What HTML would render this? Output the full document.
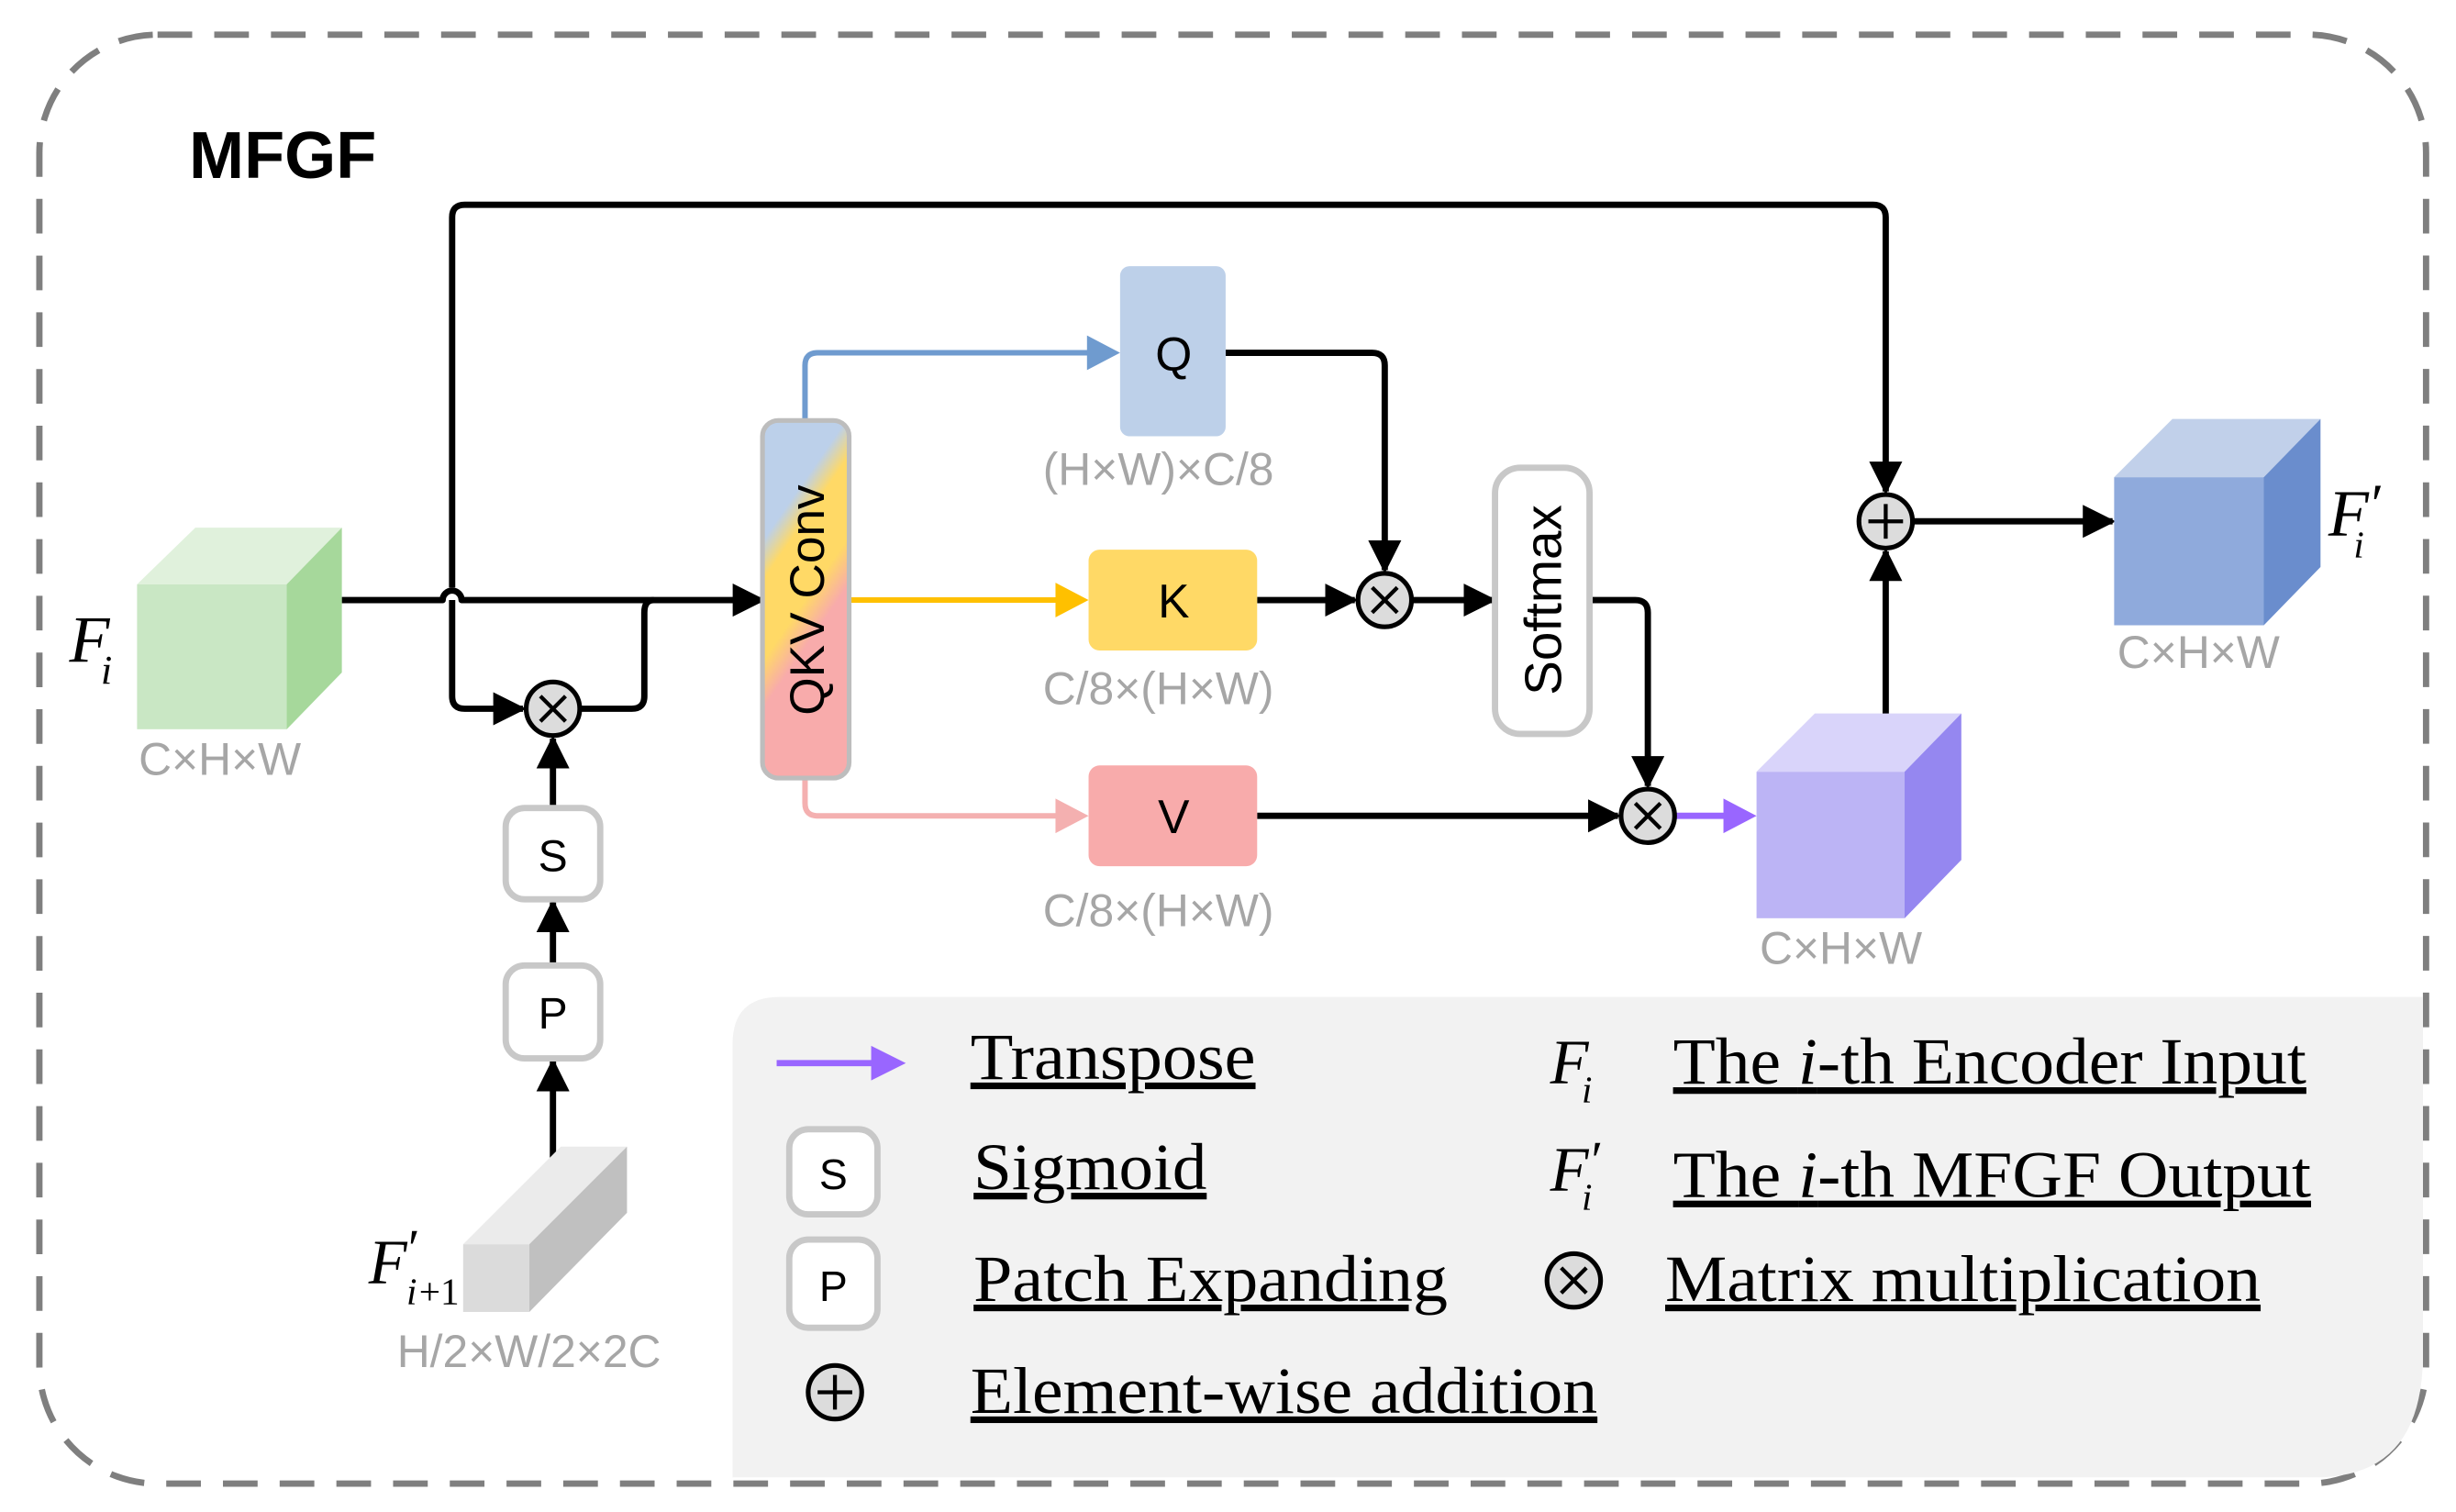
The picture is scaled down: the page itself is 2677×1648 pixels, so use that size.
<!DOCTYPE html>
<html><head><meta charset="utf-8"><style>
html,body{margin:0;padding:0;background:#fff;}
svg{display:block;}
.s{font-family:"Liberation Sans",sans-serif;}
.g{font-family:"Liberation Sans",sans-serif;fill:#a6a6a6;font-size:29px;}
.r{font-family:"Liberation Serif",serif;font-size:42px;fill:#000;text-decoration:underline;}
.m{font-family:"Liberation Serif",serif;font-style:italic;fill:#000;}
</style></head><body>
<svg width="2677" height="1648" viewBox="0 0 1559 960" preserveAspectRatio="none" xmlns="http://www.w3.org/2000/svg">
<defs>
<marker id="a" viewBox="0 0 10 10" refX="9" refY="5" markerWidth="21" markerHeight="21" orient="auto" markerUnits="userSpaceOnUse"><path d="M0,0 L10,5 L0,10z" fill="#000"/></marker>
<linearGradient id="qkv" x1="0" y1="0" x2="0.35" y2="1">
<stop offset="0" stop-color="#bcd0ea"/><stop offset="0.3" stop-color="#bcd0ea"/>
<stop offset="0.4" stop-color="#ffd966"/><stop offset="0.6" stop-color="#ffd966"/>
<stop offset="0.72" stop-color="#f8abab"/><stop offset="1" stop-color="#f8abab"/>
</linearGradient>
</defs>
<rect x="25" y="22" width="1515" height="920" rx="75" fill="none" stroke="#7f7f7f" stroke-width="4" stroke-dasharray="22,14"/>
<path d="M495,633 H1538 V860 Q1538,938 1470,938 H465 V663 Q465,633 495,633z" fill="#f2f2f2"/>
<text x="120" y="113" class="s" font-size="42" font-weight="bold">MFGF</text>

<g fill="none" stroke="#000" stroke-width="4" stroke-linejoin="round">
<path d="M287,373 V138 Q287,130 295,130 H1189 Q1197,130 1197,138 V312" marker-end="url(#a)"/>
<path d="M217,381 H281 A6,6 0 0 1 293,381 H484" marker-end="url(#a)"/>
<path d="M287,381 V442 Q287,450 295,450 H332" marker-end="url(#a)"/>
<path d="M369,450 H401 Q409,450 409,442 V389 Q409,381 415,381"/>
<path d="M351,740 V674" marker-end="url(#a)"/>
<path d="M351,613 V573" marker-end="url(#a)"/>
<path d="M351,513 V469" marker-end="url(#a)"/>
<path d="M778,224 H871 Q879,224 879,232 V362" marker-end="url(#a)"/>
<path d="M798,381 H860" marker-end="url(#a)"/>
<path d="M897,381 H948" marker-end="url(#a)"/>
<path d="M1009,381 H1038 Q1046,381 1046,389 V499" marker-end="url(#a)"/>
<path d="M798,518 H1027" marker-end="url(#a)"/>
<path d="M1197,455 V350" marker-end="url(#a)"/>
<path d="M1215,331 H1341" marker-end="url(#a)"/>
</g>
<path d="M511,268 V232 Q511,224 519,224 H694" fill="none" stroke="#6f9bcf" stroke-width="3.5"/>
<path d="M690,213 L711,224 L690,235z" fill="#6f9bcf"/>
<path d="M539,381 H674" stroke="#ffc000" stroke-width="3.5"/><path d="M670,370 L691,381 L670,392z" fill="#ffc000"/>
<path d="M511,494 V510 Q511,518 519,518 H674" fill="none" stroke="#f4b0b0" stroke-width="3.5"/><path d="M670,507 L691,518 L670,529z" fill="#f4b0b0"/>
<path d="M1064,518 H1098" stroke="#9966ff" stroke-width="4"/><path d="M1094,507 L1115,518 L1094,529z" fill="#9966ff"/>

<polygon points="87,371 124,335 217,335 182,371" fill="#e0f1dc"/>
<polygon points="182,371 217,335 217,427 182,463" fill="#a6d89b"/>
<rect x="87" y="371" width="95" height="92" fill="#c9e7c4"/>
<text x="44" y="420" class="m" font-size="42">F</text><text x="64" y="434" class="m" font-size="26">i</text>
<text x="88" y="492" class="g">C×H×W</text>

<g stroke="#000" stroke-width="3" fill="#dcdcdc">
<circle cx="351" cy="450" r="17"/><circle cx="879" cy="381" r="17"/><circle cx="1046" cy="518" r="17"/><circle cx="1197" cy="331" r="17"/>
<circle cx="999" cy="813" r="17"/><circle cx="530" cy="884" r="17"/>
</g>
<g stroke="#000" stroke-width="2.5">
<path d="M343,442 L359,458 M359,442 L343,458"/>
<path d="M871,373 L887,389 M887,373 L871,389"/>
<path d="M1038,510 L1054,526 M1054,510 L1038,526"/>
<path d="M991,805 L1007,821 M1007,805 L991,821"/>
<path d="M1186,331 H1208 M1197,320 V342"/>
<path d="M519,884 H541 M530,873 V895"/>
</g>

<g fill="#fff" stroke="#c8c8c8" stroke-width="4">
<rect x="321" y="513" width="60" height="58" rx="12"/>
<rect x="321" y="613" width="60" height="59" rx="12"/>
<rect x="501" y="717" width="56" height="54" rx="12"/>
<rect x="501" y="787" width="56" height="56" rx="12"/>
<rect x="949" y="297" width="60" height="169" rx="16"/>
</g>
<text x="351" y="553" class="s" font-size="28" text-anchor="middle">S</text>
<text x="351" y="653" class="s" font-size="28" text-anchor="middle">P</text>
<text x="529" y="755" class="s" font-size="27" text-anchor="middle">S</text>
<text x="529" y="826" class="s" font-size="27" text-anchor="middle">P</text>
<text transform="translate(991,381) rotate(-90)" class="s" font-size="33" text-anchor="middle">Softmax</text>

<polygon points="294,790 336,790 398,728 356,728" fill="#ebebeb"/>
<polygon points="336,790 398,728 398,770 336,833" fill="#c0c0c0"/>
<rect x="294" y="790" width="42" height="43" fill="#dbdbdb"/>
<text x="234" y="815" class="m" font-size="40">F</text><text x="257" y="804" class="m" font-size="34" font-style="normal">′</text>
<text x="258" y="828" class="m" font-size="24">i</text><text x="266" y="828" font-family="Liberation Serif" font-size="24">+1</text>
<text x="252" y="868" class="g">H/2×W/2×2C</text>

<rect x="484" y="267" width="55" height="227" rx="10" fill="url(#qkv)" stroke="#bdbdbd" stroke-width="3"/>
<text transform="translate(523,381) rotate(-90)" class="s" font-size="31" text-anchor="middle">QKV Conv</text>

<rect x="711" y="169" width="67" height="108" rx="6" fill="#bdd0e9"/>
<text x="745" y="235" class="s" font-size="30" text-anchor="middle">Q</text>
<text x="662" y="308" class="g">(H×W)×C/8</text>
<rect x="691" y="349" width="107" height="64" rx="7" fill="#ffd966"/>
<text x="745" y="392" class="s" font-size="30" text-anchor="middle">K</text>
<text x="662" y="447" class="g">C/8×(H×W)</text>
<rect x="691" y="486" width="107" height="64" rx="7" fill="#f8abab"/>
<text x="745" y="529" class="s" font-size="30" text-anchor="middle">V</text>
<text x="662" y="588" class="g">C/8×(H×W)</text>

<polygon points="1115,490 1152,453 1245,453 1209,490" fill="#d9d4fa"/>
<polygon points="1209,490 1245,453 1245,546 1209,583" fill="#9587f0"/>
<rect x="1115" y="490" width="94" height="93" fill="#bcb4f5"/>
<text x="1117" y="612" class="g">C×H×W</text>

<polygon points="1342,303 1379,266 1473,266 1437,303" fill="#c1d0ea"/>
<polygon points="1437,303 1473,266 1473,360 1437,397" fill="#6a8dcd"/>
<rect x="1342" y="303" width="95" height="94" fill="#8faadc"/>
<text x="1478" y="340" class="m" font-size="42">F</text><text x="1503" y="332" class="m" font-size="36" font-style="normal">′</text><text x="1494" y="354" class="m" font-size="24">i</text>
<text x="1344" y="424" class="g">C×H×W</text>

<path d="M493,675 H556" stroke="#9966ff" stroke-width="4"/><path d="M553,664 L575,675 L553,686z" fill="#9966ff"/>
<text x="616" y="685" class="r" textLength="181" lengthAdjust="spacingAndGlyphs">Transpose</text>
<text x="618" y="755" class="r" textLength="148" lengthAdjust="spacingAndGlyphs">Sigmoid</text>
<text x="618" y="826" class="r" textLength="301" lengthAdjust="spacingAndGlyphs">Patch Expanding</text>
<text x="616" y="897" class="r" textLength="398" lengthAdjust="spacingAndGlyphs">Element-wise addition</text>
<text x="984" y="688" class="m" font-size="40">F</text><text x="1004" y="700" class="m" font-size="24">i</text>
<text x="984" y="756" class="m" font-size="40">F</text><text x="1008" y="748" class="m" font-size="34" font-style="normal">′</text><text x="1004" y="768" class="m" font-size="24">i</text>
<text x="1062" y="688" class="r" textLength="402" lengthAdjust="spacingAndGlyphs">The <tspan font-style="italic">i</tspan>-th Encoder Input</text>
<text x="1062" y="760" class="r" textLength="405" lengthAdjust="spacingAndGlyphs">The <tspan font-style="italic">i</tspan>-th MFGF Output</text>
<text x="1057" y="826" class="r" textLength="378" lengthAdjust="spacingAndGlyphs">Matrix multiplication</text>
</svg>
</body></html>
